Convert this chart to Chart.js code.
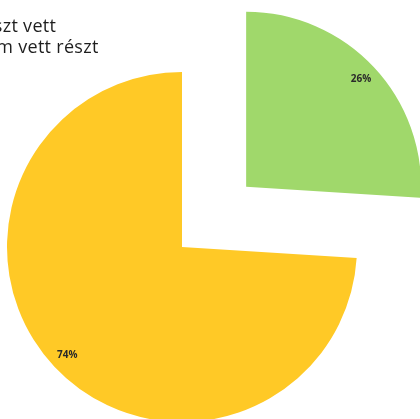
<!DOCTYPE html>
<html>
<head>
<meta charset="utf-8">
<script src="https://cdn.jsdelivr.net/npm/chart.js@4/dist/chart.umd.min.js"></script>
<style>
  html, body { margin: 0; padding: 0; background: #fff; overflow: hidden; }
  #wrap { position: relative; width: 420px; height: 419px; }
  #legend {
    position: absolute; left: -28px; top: 15px;
    font-family: "Open Sans", sans-serif; font-size: 18px; line-height: 21px;
    letter-spacing: 0.3px; color: #1e1e1e; white-space: nowrap; z-index: 2;
  }
  canvas { position: absolute; left: 0; top: 0; }
</style>
</head>
<body>
<div id="wrap">
  <div id="legend"></div>
  <canvas id="grafikon" width="420" height="419"></canvas>
</div>
<script>
// Adatok
const labels = ["Részt vett", "Nem vett részt"];
const values = [26, 74];
const colors = ["#a0d86b", "#ffc926"];
const exploded = [88, 0];

// Jelmagyarázat (a bal széle lelóg a képről)
document.getElementById("legend").innerHTML = labels.map((l) => "<div>" + l + "</div>").join("");

// Szelet kihúzása a saját felezőszöge mentén
const explodePlugin = {
  id: "explode",
  afterDatasetsUpdate(chart) {
    const meta = chart.getDatasetMeta(0);
    meta.data.forEach((arc, i) => {
      const d = exploded[i] || 0;
      if (!d) return;
      const mid = (arc.startAngle + arc.endAngle) / 2;
      arc.x += Math.cos(mid) * d;
      arc.y += Math.sin(mid) * d;
    });
  }
};

// Százalékos feliratok a szeleteken
const percentPlugin = {
  id: "percent",
  afterDatasetsDraw(chart) {
    const ctx = chart.ctx;
    const meta = chart.getDatasetMeta(0);
    const total = values.reduce((a, b) => a + b, 0);
    ctx.save();
    ctx.font = "bold 10px 'Open Sans', sans-serif";
    ctx.fillStyle = "#2a2a2a";
    ctx.textAlign = "center";
    ctx.textBaseline = "middle";
    meta.data.forEach((arc, i) => {
      const mid = (arc.startAngle + arc.endAngle) / 2;
      const r = arc.outerRadius * 0.9;
      const txt = Math.round(values[i] / total * 100) + "%";
      ctx.fillText(txt, arc.x + Math.cos(mid) * r, arc.y + Math.sin(mid) * r);
    });
    ctx.restore();
  }
};

new Chart(document.getElementById("grafikon"), {
  type: "pie",
  data: {
    labels: labels,
    datasets: [{
      data: values,
      backgroundColor: colors,
      borderWidth: 0,
      radius: 175
    }]
  },
  options: {
    responsive: false,
    animation: false,
    layout: { padding: { left: 0, right: 56, top: 75, bottom: 0 } },
    plugins: {
      legend: { display: false },
      tooltip: { enabled: false }
    }
  },
  plugins: [explodePlugin, percentPlugin]
});
</script>
</body>
</html>
